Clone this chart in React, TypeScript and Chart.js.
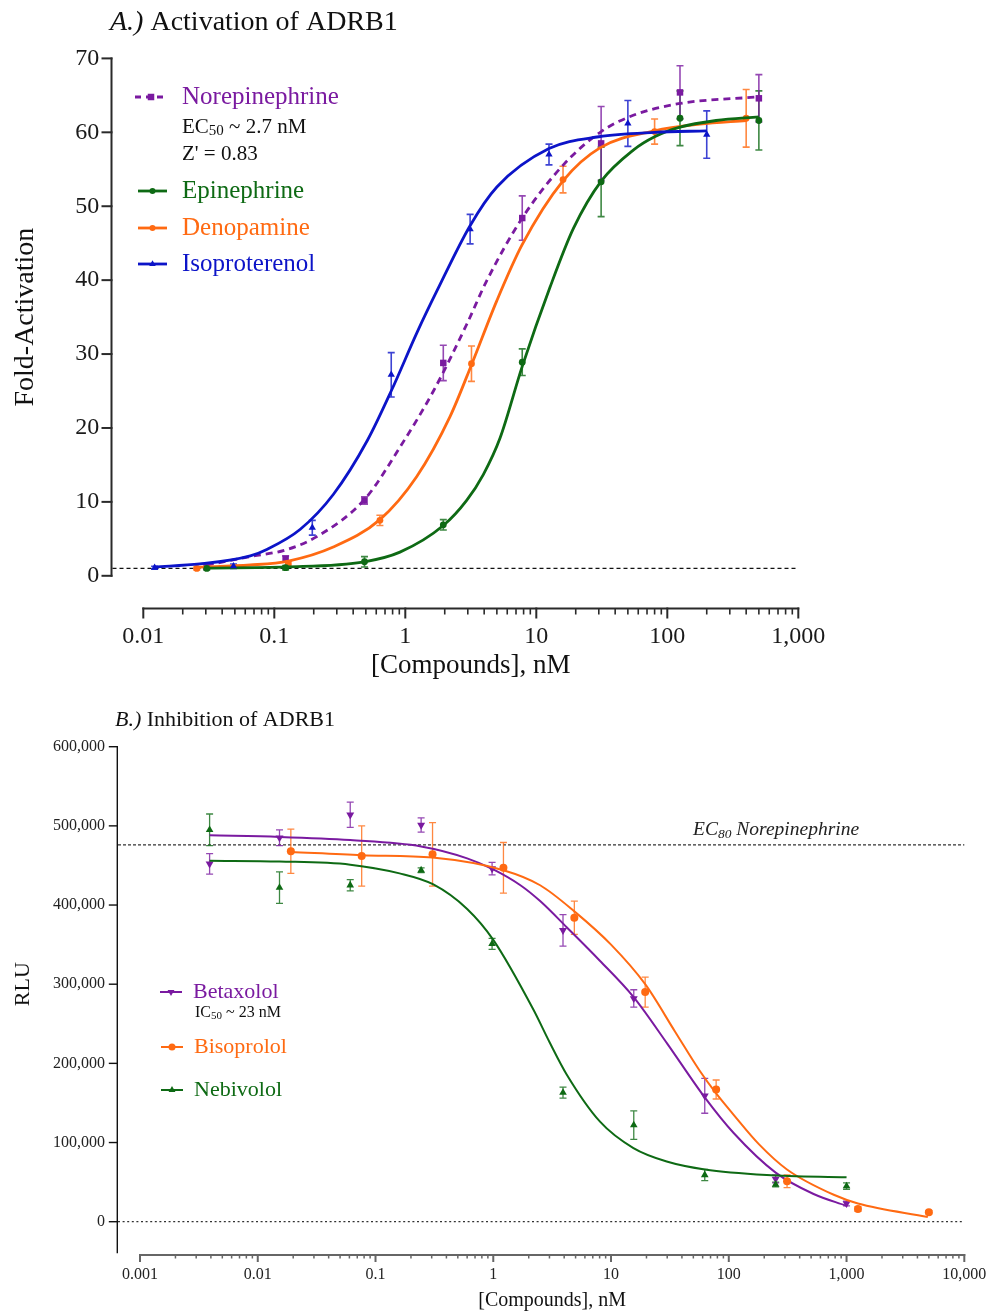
import React, { useEffect, useRef } from 'react';
import { Chart, registerables } from 'chart.js';

Chart.register(...registerables);

const SERIF = "'Liberation Serif', 'Times New Roman', Times, serif";
Chart.defaults.font.family = SERIF;

const PURPLE = '#7a1aa0';
const GREEN = '#0e6a14';
const ORANGE = '#ff6a12';
const BLUE = '#0c14c8';

// ================= Panel A: Activation of ADRB1 =================
const A_X_TICKS = [0.01, 0.1, 1, 10, 100, 1000];
const A_Y_TICKS = [0, 10, 20, 30, 40, 50, 60, 70];
const A_BASELINE = 1;

const NOREPI_X = [0.0305, 0.122, 0.488, 1.95, 7.81, 31.25, 125, 500];
const NOREPI_Y = [1.2, 2.3, 10.2, 28.8, 48.4, 58.5, 65.4, 64.6];
const NOREPI_ERR = [0.3, 0.4, 0.5, 2.4, 3.0, 5.0, 3.6, 3.2];
const NOREPI_FIT_X = [0.0305, 0.0653, 0.122, 0.211, 0.492, 0.91, 1.64, 2.94, 4.18, 7.8, 16.1, 31.3, 55, 125, 500];
const NOREPI_FIT_Y = [1.45, 2.6, 3.5, 5.3, 10.4, 17.4, 25.0, 34.0, 39.9, 48.4, 55.6, 60.1, 62.3, 63.9, 64.8];

const EPI_X = [0.0305, 0.122, 0.488, 1.95, 7.81, 31.25, 125, 500];
const EPI_Y = [1.0, 1.1, 1.9, 6.9, 28.9, 53.3, 61.9, 61.6];
const EPI_ERR = [0.2, 0.3, 0.7, 0.7, 1.8, 4.7, 3.7, 4.0];
const EPI_FIT_X = [0.0305, 0.122, 0.488, 0.91, 1.95, 2.94, 3.94, 5.28, 7.8, 12.7, 19.2, 31.3, 55, 80, 125, 236, 500];
const EPI_FIT_Y = [1.05, 1.2, 1.9, 3.2, 6.8, 10.2, 13.7, 18.6, 28.3, 39.0, 47.0, 53.4, 57.6, 59.4, 60.7, 61.6, 62.1];

const DENO_X = [0.0256, 0.128, 0.64, 3.2, 16, 80, 400];
const DENO_Y = [1.0, 1.6, 7.5, 28.7, 53.6, 60.1, 61.9];
const DENO_ERR = [0.2, 0.3, 0.7, 2.4, 1.8, 1.7, 3.9];
const DENO_FIT_X = [0.0256, 0.0656, 0.128, 0.282, 0.64, 1.22, 2.19, 3.21, 4.99, 7.8, 16.1, 30.6, 80, 177, 400];
const DENO_FIT_Y = [1.15, 1.46, 2.0, 3.9, 7.6, 13.4, 21.5, 28.6, 37.2, 44.8, 53.5, 57.9, 60.2, 61.1, 61.6];

const ISO_X = [0.0122, 0.0488, 0.195, 0.781, 3.125, 12.5, 50, 200];
const ISO_Y = [1.1, 1.3, 6.5, 27.2, 46.9, 57.0, 61.2, 59.7];
const ISO_ERR = [0.2, 0.3, 1.0, 3.0, 2.0, 1.4, 3.1, 3.2];
const ISO_FIT_X = [0.0122, 0.027, 0.0656, 0.0885, 0.158, 0.282, 0.513, 0.79, 1.235, 1.75, 3.13, 5.0, 12.5, 30, 80, 200];
const ISO_FIT_Y = [1.2, 1.6, 2.7, 3.6, 6.3, 11.0, 18.3, 25.2, 33.0, 38.6, 47.4, 52.6, 57.8, 59.4, 60.0, 60.2];

// ================= Panel B: Inhibition of ADRB1 =================
const B_X_TICKS = [0.001, 0.01, 0.1, 1, 10, 100, 1000, 10000];
const B_Y_TICKS = [0, 100000, 200000, 300000, 400000, 500000, 600000];
const B_EC80 = 476000;
const B_ZERO = 0;

const BETA_X = [0.0039, 0.0153, 0.061, 0.244, 0.977, 3.91, 15.6, 62.5, 250, 1000];
const BETA_Y = [452000, 485000, 514000, 501000, 446000, 368000, 282000, 159000, 54000, 23000];
const BETA_ERR = [13000, 10000, 16000, 9000, 8000, 20000, 11000, 22000, 5000, 3000];
const BETA_FIT_X = [0.0039, 0.0153, 0.061, 0.244, 0.6, 1.0, 1.7, 2.5, 4.2, 8, 15.5, 30, 62.5, 110, 250, 525, 1000];
const BETA_FIT_Y = [488000, 486000, 482000, 474000, 459000, 445000, 425000, 405000, 372000, 330000, 284000, 225000, 157000, 112000, 62000, 35000, 20000];

const BISO_X = [0.0191, 0.0763, 0.305, 1.22, 4.88, 19.5, 78.1, 312.5, 1250, 5000];
const BISO_Y = [468000, 462000, 464000, 447000, 384000, 290000, 167000, 51000, 16000, 12000];
const BISO_ERR = [28000, 38000, 40000, 32000, 21000, 19000, 12000, 8000, 3000, 2000];
const BISO_FIT_X = [0.0191, 0.0763, 0.305, 1.22, 2.5, 4.88, 10, 19.5, 35, 57, 78.1, 110, 180, 312, 779, 1250, 4900];
const BISO_FIT_Y = [467000, 463000, 460000, 444000, 425000, 392000, 350000, 300000, 240000, 190000, 162000, 135000, 98000, 66000, 34000, 23000, 6000];

const NEBI_X = [0.0039, 0.0153, 0.061, 0.244, 0.977, 3.91, 15.6, 62.5, 250, 1000];
const NEBI_Y = [495000, 422000, 425000, 444000, 351000, 163000, 122000, 59000, 47000, 45000];
const NEBI_ERR = [20000, 20000, 7000, 3000, 7000, 7000, 18000, 7000, 3000, 4000];
const NEBI_FIT_X = [0.0039, 0.0153, 0.061, 0.16, 0.31, 0.6, 1.0, 2.19, 3.0, 4.2, 8.1, 15.5, 29.7, 62.5, 210, 1000];
const NEBI_FIT_Y = [456000, 455000, 451000, 440000, 426000, 395000, 356000, 268000, 227000, 186000, 126000, 93000, 76000, 66000, 59000, 56000];

// ================= helpers =================
const fmtTick = (v: number) => (v >= 1 ? v.toLocaleString('en-US') : String(v));

function drawMarker(ctx: any, style: string, x: number, y: number, r: number, rotation = 0) {
  ctx.beginPath();
  if (style === 'circle') {
    ctx.arc(x, y, r, 0, Math.PI * 2);
  } else if (style === 'rect') {
    const s = r * Math.SQRT1_2;
    ctx.rect(x - s, y - s, 2 * s, 2 * s);
  } else {
    let rad = (rotation * Math.PI) / 180;
    ctx.moveTo(x + Math.sin(rad) * r, y - Math.cos(rad) * r);
    rad += (2 * Math.PI) / 3;
    ctx.lineTo(x + Math.sin(rad) * r, y - Math.cos(rad) * r);
    rad += (2 * Math.PI) / 3;
    ctx.lineTo(x + Math.sin(rad) * r, y - Math.cos(rad) * r);
    ctx.closePath();
  }
  ctx.fill();
}

function drawParts(ctx: any, x: number, y: number, parts: any[], color: string) {
  let cx = x;
  ctx.textAlign = 'left';
  ctx.textBaseline = 'middle';
  parts.forEach((p) => {
    ctx.font = `${p.italic ? 'italic ' : ''}${p.size}px ${SERIF}`;
    ctx.fillStyle = p.color || color;
    ctx.fillText(p.t, cx, y + (p.dy || 0));
    cx += ctx.measureText(p.t).width;
  });
}

function makePrismPlugin(d: any) {
  return {
    id: 'prismDecor',
    beforeDatasetsDraw(chart: any) {
      const { ctx, chartArea: ca, scales } = chart;
      const xs = scales.x;
      const ys = scales.y;
      ctx.save();
      ctx.setLineDash([]);
      ctx.lineCap = 'butt';
      // y axis
      const ax = ca.left + d.yAxis.offset;
      ctx.strokeStyle = d.yAxis.color;
      ctx.lineWidth = d.yAxis.width;
      ctx.beginPath();
      ctx.moveTo(ax, ys.getPixelForValue(ys.max) - d.yAxis.width / 2);
      ctx.lineTo(ax, ca.bottom + d.yAxis.extendBelow);
      ctx.stroke();
      ys.ticks.forEach((t: any) => {
        const py = ys.getPixelForValue(t.value);
        ctx.beginPath();
        ctx.moveTo(ax - d.yAxis.tickLen, py);
        ctx.lineTo(ax + d.yAxis.width / 2, py);
        ctx.stroke();
      });
      // x axis
      const ay = ca.bottom + d.xAxis.offset;
      ctx.strokeStyle = d.xAxis.color;
      ctx.lineWidth = d.xAxis.width;
      const x0 = xs.getPixelForValue(xs.min);
      const x1 = xs.getPixelForValue(xs.max);
      ctx.beginPath();
      ctx.moveTo(x0 - d.xAxis.width / 2, ay);
      ctx.lineTo(x1 + d.xAxis.width / 2, ay);
      ctx.stroke();
      xs.ticks.forEach((t: any) => {
        const px = xs.getPixelForValue(t.value);
        ctx.beginPath();
        ctx.moveTo(px, ay - d.xAxis.width / 2);
        ctx.lineTo(px, ay + d.xAxis.majorLen);
        ctx.stroke();
      });
      const d0 = Math.round(Math.log10(xs.min));
      const d1 = Math.round(Math.log10(xs.max));
      ctx.lineWidth = d.xAxis.minorWidth;
      for (let e = d0; e < d1; e++) {
        for (let k = 2; k <= 9; k++) {
          const px = xs.getPixelForValue(k * Math.pow(10, e));
          ctx.beginPath();
          ctx.moveTo(px, ay);
          ctx.lineTo(px, ay + d.xAxis.minorLen);
          ctx.stroke();
        }
      }
      // reference lines
      d.refLines.forEach((r: any) => {
        const py = ys.getPixelForValue(r.value);
        ctx.strokeStyle = r.color;
        ctx.lineWidth = r.width;
        ctx.setLineDash(r.dash);
        ctx.beginPath();
        ctx.moveTo(ax + d.yAxis.width / 2, py);
        ctx.lineTo(xs.getPixelForValue(r.to) + (r.extra || 0), py);
        ctx.stroke();
      });
      ctx.setLineDash([]);
      // error bars
      chart.data.datasets.forEach((ds: any) => {
        if (!ds.errors) return;
        ctx.strokeStyle = ds.errColor;
        ctx.globalAlpha = 0.8;
        ctx.lineWidth = ds.errLW;
        const cw = ds.capW;
        ds.data.forEach((p: any, j: number) => {
          const e = ds.errors[j];
          if (!e) return;
          const px = xs.getPixelForValue(p.x);
          const pt = ys.getPixelForValue(p.y + e);
          const pb = ys.getPixelForValue(p.y - e);
          ctx.beginPath();
          ctx.moveTo(px, pt);
          ctx.lineTo(px, pb);
          ctx.moveTo(px - cw / 2, pt);
          ctx.lineTo(px + cw / 2, pt);
          ctx.moveTo(px - cw / 2, pb);
          ctx.lineTo(px + cw / 2, pb);
          ctx.stroke();
        });
        ctx.globalAlpha = 1;
      });
      ctx.restore();
    },
    afterDraw(chart: any) {
      const { ctx } = chart;
      ctx.save();
      d.legend.forEach((it: any) => {
        ctx.strokeStyle = it.color;
        ctx.fillStyle = it.color;
        ctx.lineWidth = it.lineWidth;
        ctx.setLineDash(it.dash || []);
        ctx.beginPath();
        ctx.moveTo(it.x1, it.y);
        ctx.lineTo(it.x2, it.y);
        ctx.stroke();
        ctx.setLineDash([]);
        drawMarker(ctx, it.style, (it.x1 + it.x2) / 2, it.y, it.r, it.rotation || 0);
        drawParts(ctx, it.textX, it.y, [{ t: it.label, size: it.size }], it.color);
      });
      d.texts.forEach((t: any) => drawParts(ctx, t.x, t.y, t.parts, t.color));
      ctx.restore();
    },
  };
}

function buildDatasets(series: any[], capW: number, errLW: number) {
  const out: any[] = [];
  series.forEach((s) => {
    out.push({
      label: s.label + ' fit',
      data: s.fitX.map((x: number, i: number) => ({ x, y: s.fitY[i] })),
      borderColor: s.color,
      borderWidth: s.lineWidth,
      borderDash: s.dash || [],
      pointRadius: 0,
      pointHoverRadius: 0,
      fill: false,
      showLine: true,
      cubicInterpolationMode: 'monotone',
      clip: false,
    });
    out.push({
      label: s.label,
      data: s.xs.map((x: number, i: number) => ({ x, y: s.ys[i] })),
      errors: s.errs,
      errColor: s.color,
      capW,
      errLW,
      showLine: false,
      pointStyle: s.pointStyle,
      rotation: s.rotation || 0,
      pointRadius: s.radius,
      pointHoverRadius: s.radius,
      pointBackgroundColor: s.color,
      pointBorderColor: s.color,
      pointBorderWidth: 0,
      clip: false,
    });
  });
  return out;
}

const A_SERIES = [
  { label: 'Isoproterenol', xs: ISO_X, ys: ISO_Y, errs: ISO_ERR, fitX: ISO_FIT_X, fitY: ISO_FIT_Y, color: BLUE, pointStyle: 'triangle', radius: 4.2, lineWidth: 2.8 },
  { label: 'Epinephrine', xs: EPI_X, ys: EPI_Y, errs: EPI_ERR, fitX: EPI_FIT_X, fitY: EPI_FIT_Y, color: GREEN, pointStyle: 'circle', radius: 3.4, lineWidth: 2.8 },
  { label: 'Denopamine', xs: DENO_X, ys: DENO_Y, errs: DENO_ERR, fitX: DENO_FIT_X, fitY: DENO_FIT_Y, color: ORANGE, pointStyle: 'circle', radius: 3.4, lineWidth: 2.8 },
  { label: 'Norepinephrine', xs: NOREPI_X, ys: NOREPI_Y, errs: NOREPI_ERR, fitX: NOREPI_FIT_X, fitY: NOREPI_FIT_Y, color: PURPLE, pointStyle: 'rect', radius: 4.6, lineWidth: 2.8, dash: [7, 5] },
];

const B_SERIES = [
  { label: 'Nebivolol', xs: NEBI_X, ys: NEBI_Y, errs: NEBI_ERR, fitX: NEBI_FIT_X, fitY: NEBI_FIT_Y, color: GREEN, pointStyle: 'triangle', radius: 4.4, lineWidth: 2 },
  { label: 'Bisoprolol', xs: BISO_X, ys: BISO_Y, errs: BISO_ERR, fitX: BISO_FIT_X, fitY: BISO_FIT_Y, color: ORANGE, pointStyle: 'circle', radius: 4, lineWidth: 2 },
  { label: 'Betaxolol', xs: BETA_X, ys: BETA_Y, errs: BETA_ERR, fitX: BETA_FIT_X, fitY: BETA_FIT_Y, color: PURPLE, pointStyle: 'triangle', rotation: 180, radius: 4.6, lineWidth: 2 },
];

const A_DECOR = {
  yAxis: { offset: -31.8, width: 2, color: '#2a2a2a', tickLen: 10, extendBelow: 1 },
  xAxis: { offset: 32.7, width: 2, minorWidth: 1.6, color: '#2a2a2a', majorLen: 10, minorLen: 6 },
  refLines: [{ value: A_BASELINE, to: 1000, dash: [4, 3], width: 1.3, color: '#111' }],
  legend: [
    { x1: 135, x2: 167, y: 97, color: PURPLE, dash: [6, 5], lineWidth: 2.8, style: 'rect', r: 4.6, label: 'Norepinephrine', textX: 182, size: 25 },
    { x1: 138, x2: 167, y: 191, color: GREEN, lineWidth: 2.8, style: 'circle', r: 3, label: 'Epinephrine', textX: 182, size: 25 },
    { x1: 138, x2: 167, y: 228, color: ORANGE, lineWidth: 2.8, style: 'circle', r: 3, label: 'Denopamine', textX: 182, size: 25 },
    { x1: 138, x2: 167, y: 264, color: BLUE, lineWidth: 2.8, style: 'triangle', r: 3.8, label: 'Isoproterenol', textX: 182, size: 25 },
  ],
  texts: [
    { x: 110, y: 23, color: '#111', parts: [{ t: 'A.)', size: 28, italic: true }, { t: ' Activation of ADRB1', size: 28 }] },
    { x: 182, y: 127, color: '#111', parts: [{ t: 'EC', size: 21 }, { t: '50', size: 15, dy: 4 }, { t: ' ~ 2.7 nM', size: 21 }] },
    { x: 182, y: 154, color: '#111', parts: [{ t: "Z' = 0.83", size: 21 }] },
  ],
};

const B_DECOR = {
  yAxis: { offset: -22.7, width: 1.4, color: '#111', tickLen: 8.5, extendBelow: 31.6 },
  xAxis: { offset: 33.3, width: 2, minorWidth: 1.5, color: '#666', majorLen: 7, minorLen: 3.5 },
  refLines: [
    { value: B_EC80, to: 10000, dash: [3, 2], width: 1.2, color: '#333' },
    { value: B_ZERO, to: 10000, dash: [2, 2.6], width: 1.3, color: '#333' },
  ],
  legend: [
    { x1: 160, x2: 182, y: 302, color: PURPLE, lineWidth: 2, style: 'triangle', rotation: 180, r: 4, label: 'Betaxolol', textX: 193, size: 22 },
    { x1: 161, x2: 183, y: 357, color: ORANGE, lineWidth: 2, style: 'circle', r: 3.5, label: 'Bisoprolol', textX: 194, size: 22 },
    { x1: 161, x2: 183, y: 400, color: GREEN, lineWidth: 2, style: 'triangle', r: 4, label: 'Nebivolol', textX: 194, size: 22 },
  ],
  texts: [
    { x: 115, y: 30, color: '#111', parts: [{ t: 'B.)', size: 22, italic: true }, { t: ' Inhibition of ADRB1', size: 22 }] },
    { x: 195, y: 323, color: '#111', parts: [{ t: 'IC', size: 16 }, { t: '50', size: 11, dy: 3 }, { t: ' ~ 23 nM', size: 16 }] },
    { x: 693, y: 140, color: '#222', parts: [{ t: 'EC', size: 19.5, italic: true }, { t: '80', size: 13.5, italic: true, dy: 4 }, { t: ' Norepinephrine', size: 19.5, italic: true }] },
  ],
};

function configA() {
  return {
    type: 'line',
    data: { datasets: buildDatasets(A_SERIES, 7, 1.6) },
    options: {
      responsive: false,
      animation: false,
      events: [],
      layout: { padding: { left: 0, top: 56.7, right: 193.7, bottom: 0 } },
      plugins: { legend: { display: false }, tooltip: { enabled: false }, title: { display: false } },
      scales: {
        x: {
          type: 'logarithmic',
          min: 0.01,
          max: 1000,
          grid: { display: false, drawTicks: false },
          border: { display: false },
          afterBuildTicks: (s: any) => {
            s.ticks = A_X_TICKS.map((v) => ({ value: v }));
          },
          afterFit: (s: any) => {
            s.height = 114.2;
            s.paddingLeft = 0;
            s.paddingRight = 0;
          },
          ticks: {
            font: { family: SERIF, size: 24 },
            color: '#1a1a1a',
            padding: 47,
            maxRotation: 0,
            autoSkip: false,
            callback: (v: any) => fmtTick(Number(v)),
          },
          title: { display: true, text: '[Compounds], nM', font: { family: SERIF, size: 27 }, color: '#111', padding: { top: 0, bottom: 7.8 } },
        },
        y: {
          type: 'linear',
          min: 0,
          max: 70,
          grid: { display: false, drawTicks: false },
          border: { display: false },
          afterBuildTicks: (s: any) => {
            s.ticks = A_Y_TICKS.map((v) => ({ value: v }));
          },
          afterFit: (s: any) => {
            s.width = 143.3;
          },
          ticks: { font: { family: SERIF, size: 24 }, color: '#1a1a1a', padding: 44, callback: (v: any) => String(v) },
          title: { display: true, text: 'Fold-Activation', font: { family: SERIF, size: 28 }, color: '#111', padding: { top: 9.2, bottom: 0 } },
        },
      },
    },
    plugins: [makePrismPlugin(A_DECOR)],
  };
}

function configB() {
  return {
    type: 'line',
    data: { datasets: buildDatasets(B_SERIES, 7, 1.3) },
    options: {
      responsive: false,
      animation: false,
      events: [],
      layout: { padding: { left: 0, top: 56.7, right: 27.7, bottom: 0 } },
      plugins: { legend: { display: false }, tooltip: { enabled: false }, title: { display: false } },
      scales: {
        x: {
          type: 'logarithmic',
          min: 0.001,
          max: 10000,
          grid: { display: false, drawTicks: false },
          border: { display: false },
          afterBuildTicks: (s: any) => {
            s.ticks = B_X_TICKS.map((v) => ({ value: v }));
          },
          afterFit: (s: any) => {
            s.height = 90.3;
            s.paddingLeft = 0;
            s.paddingRight = 0;
          },
          ticks: {
            font: { family: SERIF, size: 16 },
            color: '#222',
            padding: 43.7,
            maxRotation: 0,
            autoSkip: false,
            callback: (v: any) => fmtTick(Number(v)),
          },
          title: { display: true, text: '[Compounds], nM', font: { family: SERIF, size: 20 }, color: '#111', padding: { top: 0, bottom: -1 } },
        },
        y: {
          type: 'linear',
          min: 0,
          max: 600000,
          grid: { display: false, drawTicks: false },
          border: { display: false },
          afterBuildTicks: (s: any) => {
            s.ticks = B_Y_TICKS.map((v) => ({ value: v }));
          },
          afterFit: (s: any) => {
            s.width = 140;
          },
          ticks: { font: { family: SERIF, size: 16 }, color: '#222', padding: 35, callback: (v: any) => fmtTick(Number(v)) },
          title: { display: true, text: 'RLU', font: { family: SERIF, size: 22 }, color: '#111', padding: { top: 9.8, bottom: 0 } },
        },
      },
    },
    plugins: [makePrismPlugin(B_DECOR)],
  };
}

function ChartPanel({ top, height, makeConfig }: any) {
  const ref = useRef<HTMLCanvasElement | null>(null);
  useEffect(() => {
    if (!ref.current) return undefined;
    const chart = new Chart(ref.current, makeConfig());
    return () => chart.destroy();
  }, [makeConfig]);
  return (
    <div style={{ position: 'absolute', left: 0, top, width: 992, height }}>
      <canvas ref={ref} width={992} height={height} style={{ display: 'block', width: 992, height }} />
    </div>
  );
}

export default function App() {
  return (
    <div style={{ position: 'absolute', left: 0, top: 0, width: 992, height: 1312, background: '#ffffff', overflow: 'hidden' }}>
      <ChartPanel top={0} height={690} makeConfig={configA} />
      <ChartPanel top={690} height={622} makeConfig={configB} />
    </div>
  );
}
